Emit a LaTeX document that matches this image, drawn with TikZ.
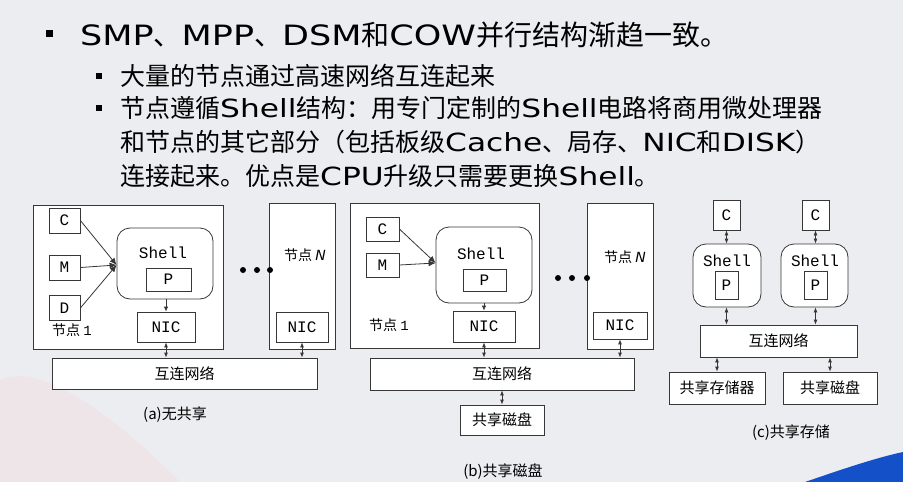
\documentclass[tikz,border=0pt]{standalone}
\usepackage{fontspec}
\usepackage{graphicx}
\setmainfont{Noto Sans CJK SC}
\newfontfamily\latfont{DejaVu Sans}
\newfontfamily\monofnt{Liberation Mono}
\usetikzlibrary{arrows.meta}
\newcommand\lt[1]{{\latfont\scalebox{1.25}[1]{#1}}}
\definecolor{bgc}{RGB}{236,237,241}
\definecolor{linec}{RGB}{55,55,55}
\definecolor{swoosh}{RGB}{20,80,200}
\tikzset{
  box/.style={draw=linec, fill=white, line width=0.8pt, inner sep=0pt},
  shellbox/.style={box, rounded corners=13pt},
  lbl/.style={inner sep=0pt, font=\monofnt\fontsize{16}{16}\selectfont},
  zh/.style={inner sep=0pt, font=\fontsize{14}{14}\selectfont},
  hdr/.style={inner sep=0pt, anchor=west},
  conn/.style={draw=linec, line width=0.8pt, -{Latex[length=7pt,width=6pt]}},
  bi/.style={draw=linec, line width=0.8pt, {Latex[length=5pt,width=4pt]}-{Latex[length=5pt,width=4pt]}},
  dn/.style={draw=linec, line width=0.8pt, -{Latex[length=5pt,width=4.5pt]}},
  dotc/.style={circle, fill=black, inner sep=0pt, minimum size=6pt}
}
\begin{document}
\begin{tikzpicture}[x=1pt,y=-1pt]
\fill[bgc] (0,0) rectangle (903,482);
\useasboundingbox (0,0) rectangle (903,482);
\fill[red!30, opacity=0.12] (0,380) .. controls (40,360) and (120,420) .. (180,482) -- (0,482) -- cycle;
\fill[swoosh] (805,482) .. controls (840,470) and (875,458) .. (903,452) -- (903,482) -- cycle;

% ---------- header ----------
\fill[black] (46,30) rectangle (53,37);
\node[hdr, font=\fontsize{28}{28}\selectfont] (t1) at (80,35) {\lt{SMP}、\lt{MPP}、\lt{DSM}和\lt{COW}并行结构渐趋一致。};
\fill[black] (96,73) rectangle (102,79);
\fill[black] (96,105) rectangle (102,111);
\node[hdr, font=\fontsize{25}{25}\selectfont] (t2) at (120,76) {大量的节点通过高速网络互连起来};
\node[hdr, font=\fontsize{25}{25}\selectfont] (t3) at (120,108) {节点遵循\lt{Shell}结构：用专门定制的\lt{Shell}电路将商用微处理器};
\node[hdr, font=\fontsize{25}{25}\selectfont] (t4) at (120,142) {和节点的其它部分（包括板级\lt{Cache}、局存、\lt{NIC}和\lt{DISK}）};
\node[hdr, font=\fontsize{25}{25}\selectfont] (t5) at (120,176) {连接起来。优点是\lt{CPU}升级只需要更换\lt{Shell}。};

% ---------- panel (a) ----------
\node[box, minimum width=190pt, minimum height=144pt] (an1) at (128,277) {};
\node[box, minimum width=66pt, minimum height=146pt] (anN) at (302,276) {};
\node[box, lbl, minimum width=31pt, minimum height=25pt] (aC) at (64.5,220.5) {C};
\node[box, lbl, minimum width=31pt, minimum height=25pt] (aM) at (64.5,267.5) {M};
\node[box, lbl, minimum width=31pt, minimum height=25pt] (aD) at (64.5,308) {D};
\node[shellbox, minimum width=96pt, minimum height=71pt] (aS) at (165,263.5) {};
\node[lbl] (aSt) at (163,253) {Shell};
\node[box, lbl, minimum width=45pt, minimum height=23pt] (aP) at (168.5,279.5) {P};
\node[box, lbl, minimum width=58pt, minimum height=30pt] (aNIC) at (166,327) {NIC};
\node[zh] (a1t) at (72,330) {节点 \monofnt 1};
\node[zh] (aNt) at (305,255) {节点 \textit{\latfont N}};
\node[box, lbl, minimum width=52pt, minimum height=30pt] (aNICN) at (302,327) {NIC};
\node[dotc] (ad1) at (243,270) {};
\node[dotc] (ad2) at (257,270) {};
\node[dotc] (ad3) at (270,270) {};
\node[box, zh, font=\fontsize{15}{15}\selectfont, minimum width=265pt, minimum height=31pt] (anet) at (184.5,373.5) {互连网络};
\node[zh, font=\fontsize{15}{15}\selectfont] (acap) at (175,415) {(a)无共享};
\coordinate (aIn) at (aS.west |- 0,265);
\draw[conn] (aC.east) -- (aIn);
\draw[conn] (aM.east) -- (aIn);
\draw[conn] (aD.east) -- (aIn);
\draw[dn] (aS.south -| aNIC.north) -- (aNIC.north);
\draw[bi] (aNIC.south) -- (aNIC.south |- anet.north);
\draw[bi] (aNICN.south) -- (aNICN.south |- anet.north);

% ---------- panel (b) ----------
\node[box, minimum width=189pt, minimum height=145pt] (bn1) at (444.5,275.5) {};
\node[box, minimum width=66pt, minimum height=146pt] (bnN) at (620,276) {};
\node[box, lbl, minimum width=33pt, minimum height=24pt] (bC) at (382.5,229) {C};
\node[box, lbl, minimum width=33pt, minimum height=24pt] (bM) at (382.5,265) {M};
\node[shellbox, minimum width=96pt, minimum height=76pt] (bS) at (484,265) {};
\node[lbl] (bSt) at (481,254) {Shell};
\node[box, lbl, minimum width=43pt, minimum height=22pt] (bP) at (484.5,280) {P};
\node[box, lbl, minimum width=62pt, minimum height=31pt] (bNIC) at (484,326.5) {NIC};
\node[zh] (b1t) at (389,325) {节点 \monofnt 1};
\node[zh] (bNt) at (625,257) {节点 \textit{\latfont N}};
\node[box, lbl, minimum width=54pt, minimum height=27pt] (bNICN) at (620,325.5) {NIC};
\node[dotc] (bd1) at (558,278) {};
\node[dotc] (bd2) at (572,278) {};
\node[dotc] (bd3) at (587,278) {};
\node[box, zh, font=\fontsize{15}{15}\selectfont, minimum width=264pt, minimum height=32pt] (bnet) at (502,374) {互连网络};
\node[box, zh, font=\fontsize{15}{15}\selectfont, minimum width=84pt, minimum height=30pt] (bdisk) at (502,420) {共享磁盘};
\node[zh, font=\fontsize{15}{15}\selectfont] (bcap) at (503,472) {(b)共享磁盘};
\coordinate (bIn) at (bS.west |- 0,263);
\draw[conn] (bC.east) -- (bIn);
\draw[conn] (bM.east) -- (bIn);
\draw[dn] (bS.south -| bNIC.north) -- (bNIC.north);
\draw[bi] (bNIC.south) -- (bNIC.south |- bnet.north);
\draw[bi] (bNICN.south) -- (bNICN.south |- bnet.north);
\draw[bi] (bnet.south) -- (bdisk.north);

% ---------- panel (c) ----------
\node[box, lbl, minimum width=27pt, minimum height=30pt] (cC1) at (726.5,215) {C};
\node[box, lbl, minimum width=27pt, minimum height=30pt] (cC2) at (815.5,215) {C};
\node[shellbox, minimum width=68pt, minimum height=63pt] (cS1) at (727,275.5) {};
\node[shellbox, minimum width=67pt, minimum height=63pt] (cS2) at (814.5,275.5) {};
\node[lbl] (cS1t) at (727,261) {Shell};
\node[lbl] (cS2t) at (815,261) {Shell};
\node[box, lbl, minimum width=23pt, minimum height=28pt] (cP1) at (726.5,285) {P};
\node[box, lbl, minimum width=23pt, minimum height=28pt] (cP2) at (815.5,285) {P};
\node[box, zh, font=\fontsize{15}{15}\selectfont, minimum width=157pt, minimum height=32pt] (cnet) at (778.5,341) {互连网络};
\node[box, zh, font=\fontsize{15}{15}\selectfont, minimum width=96pt, minimum height=32pt] (cmem) at (717,388) {共享存储器};
\node[box, zh, font=\fontsize{15}{15}\selectfont, minimum width=94pt, minimum height=32pt] (cdisk) at (830,388) {共享磁盘};
\node[zh, font=\fontsize{15}{15}\selectfont] (ccap) at (791,433) {(c)共享存储};
\draw[bi] (cC1.south) -- (cC1.south |- cS1.north);
\draw[bi] (cC2.south) -- (cC2.south |- cS2.north);
\draw[bi] (cS1.south -| cC1.south) -- (cC1.south |- cnet.north);
\draw[bi] (cS2.south -| cC2.south) -- (cC2.south |- cnet.north);
\draw[bi] (cnet.south -| cmem.north) -- (cmem.north);
\draw[bi] (cnet.south -| cdisk.north) -- (cdisk.north);
\end{tikzpicture}
\end{document}
